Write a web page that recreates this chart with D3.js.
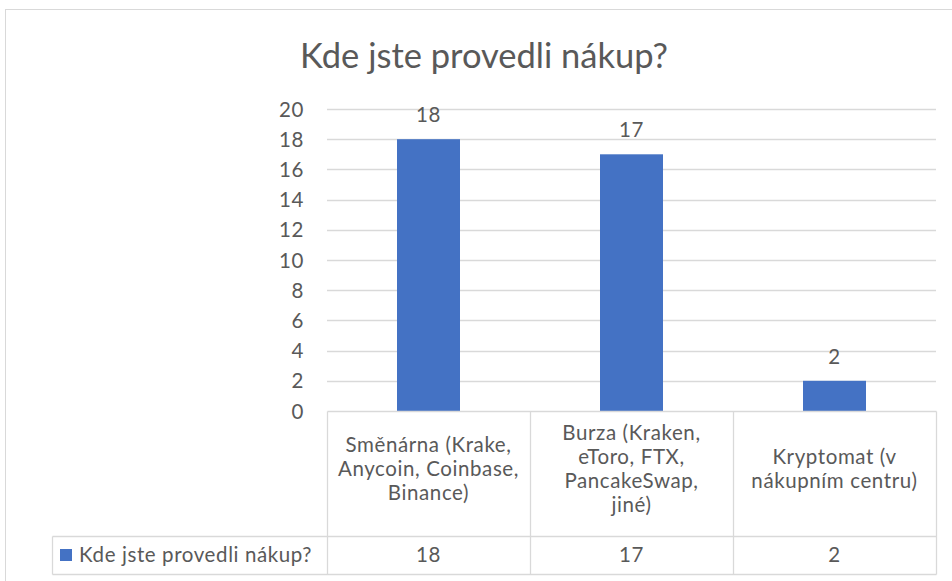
<!DOCTYPE html>
<html><head><meta charset="utf-8">
<script src="https://cdn.jsdelivr.net/npm/d3@7"></script>
<style>body{margin:0;background:#fff;font-family:Lato,sans-serif;}</style>
</head><body><svg id="c" width="952" height="581"></svg>
<script>
const title = "Kde jste provedli nákup?";
const seriesName = "Kde jste provedli nákup?";
const categories = [
  ["Směnárna (Krake,", "Anycoin, Coinbase,", "Binance)"],
  ["Burza (Kraken,", "eToro, FTX,", "PancakeSwap,", "jiné)"],
  ["Kryptomat (v", "nákupním centru)"]
];
const values = [18, 17, 2];
const yTicks = [0, 2, 4, 6, 8, 10, 12, 14, 16, 18, 20];

const svg = d3.select("#c");
const txt = "#595959", grid = "#d9d9d9", blue = "#4472C4";
const F = 'Lato, sans-serif';
const fs = 20.5, ls = 0.6;

svg.append("rect").attr("x", 5.5).attr("y", 9.5).attr("width", 960).attr("height", 600)
  .attr("fill", "none").attr("stroke", grid).attr("stroke-width", 1);

const x0 = 327, x1 = 936;
const x = d3.scaleBand().domain(d3.range(values.length)).range([x0, x1]);
const y = d3.scaleLinear().domain([0, 20]).range([411, 109]);

svg.append("text").attr("x", 484).attr("y", 68).attr("text-anchor", "middle")
  .attr("font-family", F).attr("font-size", 34.5).attr("fill", txt).text(title);

svg.append("g").selectAll("line").data(yTicks.filter(d => d > 0)).join("line")
  .attr("x1", x0).attr("x2", x1).attr("y1", d => Math.round(y(d)) + 0.5).attr("y2", d => Math.round(y(d)) + 0.5)
  .attr("stroke", grid).attr("stroke-width", 1.3);

const yAxis = d3.axisLeft(y).tickValues(yTicks).tickSize(0).tickPadding(0);
const ga = svg.append("g").attr("transform", `translate(304,0)`).call(yAxis);
ga.select(".domain").remove();
ga.selectAll("text").attr("font-family", F).attr("font-size", fs).attr("letter-spacing", ls)
  .attr("fill", txt).attr("dy", "0.35em");

const bw = 63;
svg.append("g").selectAll("rect").data(values).join("rect")
  .attr("x", (d, i) => x(i) + x.bandwidth() / 2 - bw / 2)
  .attr("y", d => y(d)).attr("width", bw).attr("height", d => y(0) - y(d))
  .attr("fill", blue);

svg.append("g").selectAll("text").data(values).join("text")
  .attr("x", (d, i) => x(i) + x.bandwidth() / 2).attr("y", d => y(d) - 24)
  .attr("dy", "0.35em").attr("text-anchor", "middle").attr("letter-spacing", ls)
  .attr("font-family", F).attr("font-size", fs).attr("fill", txt).text(d => d);

const tTop = 411.5, tMid = 536.5, tBot = 574.5, legL = 52.5;
const tg = svg.append("g").attr("stroke", grid).attr("stroke-width", 1.3).attr("fill", "none");
tg.append("line").attr("x1", x0 + 0.5).attr("x2", x1 + 0.5).attr("y1", tTop).attr("y2", tTop);
tg.append("line").attr("x1", legL).attr("x2", x1 + 0.5).attr("y1", tMid).attr("y2", tMid);
tg.append("line").attr("x1", legL).attr("x2", x1 + 0.5).attr("y1", tBot).attr("y2", tBot);
tg.append("line").attr("x1", legL).attr("x2", legL).attr("y1", tMid).attr("y2", tBot);
const edges = d3.range(values.length + 1).map(i => i < values.length ? x(i) : x1);
tg.selectAll(".v").data(edges).join("line").attr("class", "v")
  .attr("x1", d => Math.round(d) + 0.5).attr("x2", d => Math.round(d) + 0.5)
  .attr("y1", tTop).attr("y2", tBot);

const lh = 24;
const cg = svg.append("g");
categories.forEach((lines, i) => {
  const cx = x(i) + x.bandwidth() / 2;
  const cy = (tTop + tMid) / 2 - 5;
  lines.forEach((l, j) => {
    cg.append("text").attr("x", cx).attr("y", cy + (j - (lines.length - 1) / 2) * lh)
      .attr("dy", "0.35em").attr("text-anchor", "middle").attr("letter-spacing", ls)
      .attr("font-family", F).attr("font-size", fs).attr("fill", txt).text(l);
  });
});

svg.append("rect").attr("x", 60).attr("y", 549).attr("width", 12).attr("height", 12).attr("fill", blue);
svg.append("text").attr("x", 79).attr("y", 555).attr("dy", "0.35em").attr("letter-spacing", ls)
  .attr("font-family", F).attr("font-size", fs).attr("fill", txt).text(seriesName);
svg.append("g").selectAll("text").data(values).join("text")
  .attr("x", (d, i) => x(i) + x.bandwidth() / 2).attr("y", 555).attr("dy", "0.35em").attr("letter-spacing", ls)
  .attr("text-anchor", "middle").attr("font-family", F).attr("font-size", fs).attr("fill", txt).text(d => d);
</script></body></html>
